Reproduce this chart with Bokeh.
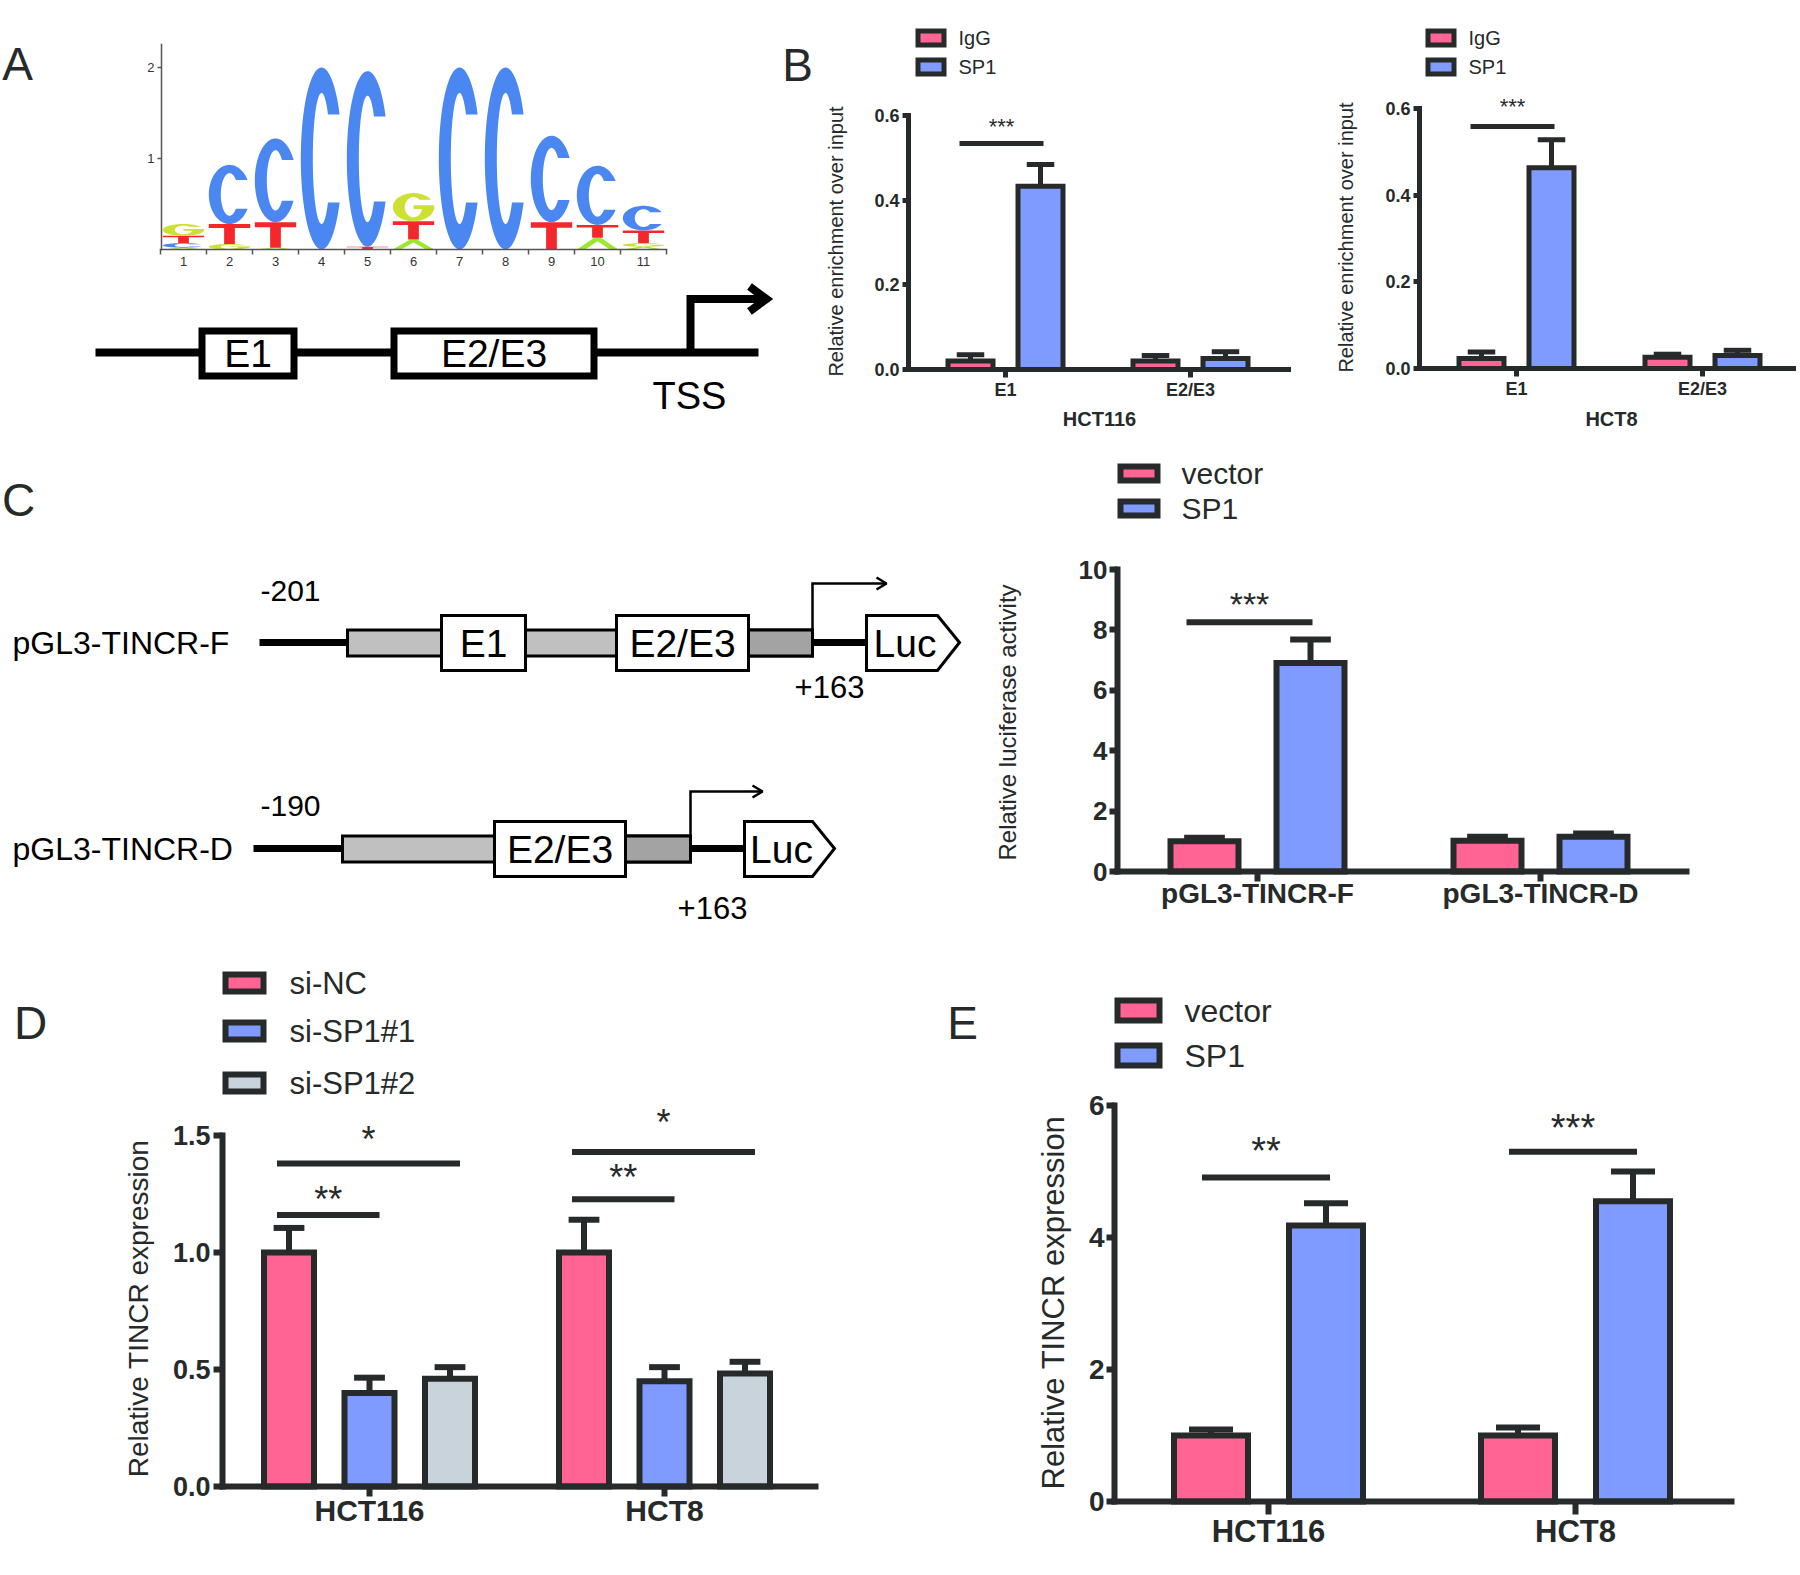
import numpy as np
from bokeh.plotting import figure
from bokeh.layouts import column, row
from bokeh.models import Range1d, LinearAxis, FixedTicker
from bokeh.core.properties import value
from bokeh.embed import file_html
from bokeh.resources import INLINE

# ======================= DATA =======================
# Panel A: SP1 motif logo (information content, bits)
logo_positions = [1, 2, 3, 4, 5, 6, 7, 8, 9, 10, 11]
logo_bits_A = [0.02, 0.00, 0.02, 0.00, 0.00, 0.11, 0.00, 0.00, 0.00, 0.13, 0.03]
logo_bits_C = [0.05, 0.65, 0.92, 2.00, 1.93, 0.00, 2.00, 2.00, 0.95, 0.65, 0.27]
logo_bits_G = [0.13, 0.06, 0.00, 0.00, 0.00, 0.31, 0.00, 0.00, 0.00, 0.00, 0.04]
logo_bits_T = [0.08, 0.22, 0.28, 0.00, 0.03, 0.20, 0.00, 0.00, 0.30, 0.14, 0.14]
logo_y_ticks = [1, 2]
logo_y_labels = ["1", "2"]

# Panel B: ChIP
chip_regions = ["E1", "E2/E3"]
chip_groups = ["IgG", "SP1"]
chip_hct116_igg = [0.020, 0.020]
chip_hct116_igg_err = [0.015, 0.013]
chip_hct116_sp1 = [0.433, 0.026]
chip_hct116_sp1_err = [0.051, 0.016]
chip_hct8_igg = [0.023, 0.026]
chip_hct8_igg_err = [0.015, 0.007]
chip_hct8_sp1 = [0.463, 0.030]
chip_hct8_sp1_err = [0.065, 0.012]
chip_y_ticks = [0.0, 0.2, 0.4, 0.6]
chip_y_labels = ["0.0", "0.2", "0.4", "0.6"]
chip_hct116_sig = [(0, 0, 1, 0.534, 0.581, "***")]
chip_hct8_sig = [(0, 0, 1, 0.5585, 0.612, "***")]

# Panel C: luciferase
luc_constructs = ["pGL3-TINCR-F", "pGL3-TINCR-D"]
luc_groups = ["vector", "SP1"]
luc_vector = [1.00, 1.02]
luc_vector_err = [0.12, 0.13]
luc_sp1 = [6.90, 1.15]
luc_sp1_err = [0.78, 0.11]
luc_y_ticks = [0, 2, 4, 6, 8, 10]
luc_y_labels = ["0", "2", "4", "6", "8", "10"]
luc_sig = [(0, 0, 1, 8.25, 9.01, "***")]

# Panel D: knockdown
si_cells = ["HCT116", "HCT8"]
si_groups = ["si-NC", "si-SP1#1", "si-SP1#2"]
si_nc = [1.00, 1.00]
si_nc_err = [0.105, 0.14]
si_sp1_1 = [0.40, 0.45]
si_sp1_1_err = [0.065, 0.06]
si_sp1_2 = [0.46, 0.483]
si_sp1_2_err = [0.05, 0.05]
si_y_ticks = [0.0, 0.5, 1.0, 1.5]
si_y_labels = ["0.0", "0.5", "1.0", "1.5"]
si_sig = [(0, 0, 1, 1.16, 1.248, "**"), (0, 0, 2, 1.38, 1.504, "*"),
          (1, 0, 1, 1.228, 1.342, "**"), (1, 0, 2, 1.43, 1.577, "*")]

# Panel E: overexpression
oe_cells = ["HCT116", "HCT8"]
oe_groups = ["vector", "SP1"]
oe_vector = [1.00, 1.00]
oe_vector_err = [0.09, 0.12]
oe_sp1 = [4.18, 4.55]
oe_sp1_err = [0.34, 0.45]
oe_y_ticks = [0, 2, 4, 6]
oe_y_labels = ["0", "2", "4", "6"]
oe_sig = [(0, 0, 1, 4.91, 5.386, "**"), (1, 0, 1, 5.30, 5.735, "***")]

# ======================= STYLE =======================
FONT = "Liberation Sans"
INK = "#262a2a"
BLACK = "#000000"
PINK = "#ff6495"
BLUE = "#7f9bff"
GREY = "#c9d3db"
LOGO_COLORS = {"A": "#9be82c", "C": "#4b87f0", "G": "#cfe034", "T": "#f4282a"}
STAR_SHIFT = 0.135   # asterisk visual centre above the text baseline, in em


class Map:
    """maps reference pixel positions to data coordinates of one figure"""

    def __init__(self, box, xcal, ycal):
        self.X0, self.Y0, self.X1, self.Y1 = box
        (xa, pxa), (xb, pxb) = xcal
        (ya, pya), (yb, pyb) = ycal
        self.kx = (xb - xa) / (pxb - pxa)
        self.ky = (yb - ya) / (pyb - pya)
        self.xa, self.pxa, self.ya, self.pya = xa, pxa, ya, pya

    def x(self, px):
        r = self.xa + (np.asarray(px, dtype=float) - self.pxa) * self.kx
        return r.tolist() if np.ndim(r) else float(r)

    def y(self, py):
        r = self.ya + (np.asarray(py, dtype=float) - self.pya) * self.ky
        return r.tolist() if np.ndim(r) else float(r)

    def w(self, d):
        return d * abs(self.kx)

    def h(self, d):
        return d * abs(self.ky)

    def fig(self):
        p = figure(width=int(self.X1 - self.X0), height=int(self.Y1 - self.Y0),
                   x_range=Range1d(self.x(self.X0), self.x(self.X1)),
                   y_range=Range1d(self.y(self.Y1), self.y(self.Y0)),
                   x_axis_type=None, y_axis_type=None, toolbar_location=None,
                   output_backend="svg", min_border=0, title=None)
        p.outline_line_color = None
        p.background_fill_color = "white"
        p.border_fill_color = "white"
        return p


def txt(p, m, px, py, s, size, style="normal", align="center", baseline="middle",
        angle=0.0, color=INK):
    p.text(x=[m.x(px)], y=[m.y(py)], text=[s], text_font=value(FONT),
           text_font_size=f"{size}px", text_font_style=style, text_align=align,
           text_baseline=baseline, angle=angle, text_color=color)


def _axis(p, side, at, ticks, labels, bounds, size, standoff, tick_out, lw,
          style="bold", color=INK, label_color=INK):
    ax = LinearAxis(fixed_location=at, ticker=FixedTicker(ticks=list(ticks)), bounds=bounds,
                    major_label_overrides=dict(zip(ticks, labels)))
    ax.axis_line_width = lw
    ax.axis_line_color = color
    ax.axis_line_cap = "square"
    ax.major_tick_line_width = lw
    ax.major_tick_line_color = color
    ax.major_tick_in = 0
    ax.major_tick_out = tick_out
    ax.minor_tick_line_color = None
    ax.major_label_text_font = FONT
    ax.major_label_text_font_size = f"{size}px"
    ax.major_label_text_font_style = style
    ax.major_label_text_color = label_color
    ax.major_label_standoff = standoff
    p.add_layout(ax, side)
    return ax


def add_yaxis(p, *a, **k):
    return _axis(p, "left", *a, **k)


def add_xaxis(p, *a, **k):
    return _axis(p, "below", *a, **k)


def bars(p, m, series, errs, colors, offsets_px, bar_px, lw, cap_frac=0.55):
    n = len(series[0])
    for k, (vals, ee, col) in enumerate(zip(series, errs, colors)):
        xs = [g + offsets_px[k] * m.kx for g in range(n)]
        ups = [v + e for v, e in zip(vals, ee)]
        cw = cap_frac * bar_px / 2 * m.kx
        p.segment(x0=xs, y0=list(vals), x1=xs, y1=ups, line_color=INK, line_width=lw)
        p.segment(x0=[x - cw for x in xs], y0=ups, x1=[x + cw for x in xs], y1=ups,
                  line_color=INK, line_width=lw)
        p.vbar(x=xs, width=(bar_px - lw) * m.kx, top=list(vals), bottom=0,
               fill_color=col, line_color=INK, line_width=lw, line_join="miter")


def sigs(p, m, sig, offsets_px, lw, star_size, left_px=-12, right_px=10):
    for (g, i, j, lvl, slvl, s) in sig:
        x0 = g + (offsets_px[i] + left_px) * m.kx
        x1 = g + (offsets_px[j] + right_px) * m.kx
        p.segment(x0=[x0], y0=[lvl], x1=[x1], y1=[lvl], line_color=INK, line_width=lw)
        p.text(x=[(x0 + x1) / 2], y=[slvl - m.h(STAR_SHIFT * star_size)], text=[s],
               text_font=value(FONT), text_font_size=f"{star_size}px",
               text_align="center", text_baseline="alphabetic", text_color=INK)


def legend(p, m, labels, colors, boxes, text_x, size, lw):
    for lab, col, (l, r, t, b) in zip(labels, colors, boxes):
        p.quad(left=[m.x(l + lw / 2)], right=[m.x(r - lw / 2)], top=[m.y(t + lw / 2)],
               bottom=[m.y(b - lw / 2)], fill_color=col, line_color=INK, line_width=lw,
               line_join="miter")
        txt(p, m, text_x, (t + b) / 2, lab, size, align="left")


# ======================= PANEL A =======================
mA = Map((0, 0, 780, 435), ((1, 183), (11, 643)), ((0, 249), (2, 67)))
pA = mA.fig()


def letter_shape(L, cx, base, h, w):
    rx, ry = w / 2, h / 2
    cy = base + ry
    if L in ("C", "G"):
        irx, iry = rx * 0.42, ry * 0.72
        a0 = np.radians(29 if L == "C" else 32)
        a1 = 2 * np.pi - a0 if L == "C" else 2 * np.pi
        t = np.linspace(a0, a1, 70)
        ox = cx + rx * np.cos(t)
        oy = cy + ry * np.sin(t)
        s0 = np.clip(ry * np.sin(a0) / iry, -1, 1)
        f0 = np.arcsin(s0)
        f1 = 2 * np.pi - f0 if L == "C" else 2 * np.pi
        f = np.linspace(f1, f0, 70)
        ix = cx + irx * np.cos(f)
        iy = cy + iry * np.sin(f)
        shapes = [(list(ox) + list(ix), list(oy) + list(iy))]
        if L == "G":
            bx = [cx, cx + rx, cx + rx, cx]
            by = [cy + 0.14 * ry, cy + 0.14 * ry, cy - 0.12 * ry, cy - 0.12 * ry]
            shapes.append((bx, by))
        return shapes
    if L == "T":
        top = base + h
        bt = 0.2 * h
        sw = 0.13 * w
        xs = [cx - rx, cx + rx, cx + rx, cx + sw, cx + sw, cx - sw, cx - sw, cx - rx]
        ys = [top, top, top - bt, top - bt, base, base, top - bt, top - bt]
        return [(xs, ys)]
    top = base + h
    xs = [cx - rx, cx - 0.08 * w, cx + 0.08 * w, cx + rx, cx + rx - 0.2 * w, cx,
          cx - rx + 0.2 * w]
    ys = [base, top, top, base, base, base + 0.7 * h, base]
    return [(xs, ys)]


lx, ly, lc = [], [], []
for idx, pos in enumerate(logo_positions):
    stack = sorted([(logo_bits_A[idx], "A"), (logo_bits_C[idx], "C"),
                    (logo_bits_G[idx], "G"), (logo_bits_T[idx], "T")], key=lambda t: t[0])
    base = 0.0
    for hgt, L in stack:
        if hgt <= 0:
            continue
        for xs, ys in letter_shape(L, pos, base, hgt, 0.9):
            lx.append(xs)
            ly.append(ys)
            lc.append(LOGO_COLORS[L])
        base += hgt
pA.patches(lx, ly, fill_color=lc, line_color=None)

add_yaxis(pA, mA.x(161), logo_y_ticks, logo_y_labels, (0, 2.25), 13, 3, 4, 1.5,
          style="normal", color="#555555", label_color="#333333")
tick_edges = [p_ - 0.5 for p_ in logo_positions] + [logo_positions[-1] + 0.5]
add_xaxis(pA, 0, tick_edges, [""] * len(tick_edges), (tick_edges[0], tick_edges[-1]),
          1, 0, 5, 1.5, style="normal", color="#555555", label_color=None)
axl = add_xaxis(pA, 0, logo_positions, [str(v) for v in logo_positions],
                (tick_edges[0], tick_edges[-1]), 13, 7, 0, 1.5, style="normal",
                color=None, label_color="#333333")
axl.major_tick_line_color = None

txt(pA, mA, 17, 63, "A", 46)

# promoter diagram
pA.line(x=mA.x([95, 758]), y=mA.y([352, 352]), line_width=8, line_color=BLACK)
for (l, r, lab) in [(198, 297, "E1"), (390, 597, "E2/E3")]:
    pA.quad(left=[mA.x(l + 3.5)], right=[mA.x(r - 3.5)], top=[mA.y(330.5)],
            bottom=[mA.y(375.5)], fill_color="white", line_color=BLACK, line_width=7,
            line_join="miter")
    txt(pA, mA, (l + r) / 2, 353, lab, 39, color=BLACK)
pA.line(x=mA.x([690, 690, 760]), y=mA.y([352, 298.5, 298.5]), line_width=8,
        line_color=BLACK, line_join="miter")
pA.line(x=mA.x([749, 766, 749]), y=mA.y([286, 298.5, 311]), line_width=8,
        line_color=BLACK, line_join="miter")
txt(pA, mA, 689, 395, "TSS", 38, color=BLACK)


# ======================= PANEL B =======================
def chip_panel(box, xcal, ycal, axis_px, xend_px, igg, igg_e, sp1, sp1_e, sig,
               ylab_pos, cell, cell_pos, leg_x, letter=None):
    m = Map(box, xcal, ycal)
    p = m.fig()
    offs = [-35, 35]
    bars(p, m, [igg, sp1], [igg_e, sp1_e], [PINK, BLUE], offs, 50, 5)
    sigs(p, m, sig, offs, 5, 22, left_px=-11, right_px=3)
    add_yaxis(p, m.x(axis_px), chip_y_ticks, chip_y_labels, (0, chip_y_ticks[-1]), 18, 3, 6, 5)
    add_xaxis(p, 0, [0, 1], chip_regions, (m.x(axis_px), m.x(xend_px)), 18, 2, 8, 5)
    txt(p, m, ylab_pos[0], ylab_pos[1], "Relative enrichment over input", 20, angle=np.pi / 2)
    txt(p, m, cell_pos[0], cell_pos[1], cell, 20, style="bold")
    legend(p, m, chip_groups, [PINK, BLUE], [(leg_x, leg_x + 31, 28, 47), (leg_x, leg_x + 31, 57, 76)],
           leg_x + 43, 20, 5)
    if letter:
        txt(p, m, letter[0], letter[1], letter[2], 46)
    return p


pB1 = chip_panel((780, 0, 1320, 435), ((0, 1005), (1, 1190)), ((0, 369), (0.6, 115)), 908, 1288,
                 chip_hct116_igg, chip_hct116_igg_err, chip_hct116_sp1, chip_hct116_sp1_err,
                 chip_hct116_sig, (835, 241), "HCT116", (1099, 418), 915, (797, 64, "B"))
pB2 = chip_panel((1320, 0, 1796, 435), ((0, 1516), (1, 1702)), ((0, 368), (0.6, 108)), 1419, 1797,
                 chip_hct8_igg, chip_hct8_igg_err, chip_hct8_sp1, chip_hct8_sp1_err,
                 chip_hct8_sig, (1345, 237), "HCT8", (1611, 418), 1425)

# ======================= PANEL C (diagram) =======================
mC = Map((0, 435, 990, 945), ((0, 0), (1, 1)), ((0, 0), (-1, 1)))
pC = mC.fig()
txt(pC, mC, 18, 499, "C", 46)


def construct(p, m, yc, name, start_lab, line0, gray0, boxes, dark0, gray1, luc0, luc_rect, luc_tip,
              arrow_top, arrow_end, plus_pos, start_pos):
    txt(p, m, 12, yc, name, 32, align="left", color=BLACK)
    txt(p, m, start_pos[0], start_pos[1], start_lab, 30, color=BLACK)
    p.line(x=m.x([line0, gray0]), y=m.y([yc, yc]), line_width=7, line_color=BLACK)
    p.line(x=m.x([gray1, luc0]), y=m.y([yc, yc]), line_width=7, line_color=BLACK)
    p.quad(left=[m.x(gray0)], right=[m.x(gray1)], top=[m.y(yc - 12.5)], bottom=[m.y(yc + 13.5)],
           fill_color="#c0c0c0", line_color=BLACK, line_width=3, line_join="miter")
    p.quad(left=[m.x(dark0)], right=[m.x(gray1)], top=[m.y(yc - 12.5)], bottom=[m.y(yc + 13.5)],
           fill_color="#a3a3a3", line_color=BLACK, line_width=3, line_join="miter")
    for (l, r, lab) in boxes:
        p.quad(left=[m.x(l)], right=[m.x(r)], top=[m.y(yc - 27)], bottom=[m.y(yc + 28)],
               fill_color="white", line_color=BLACK, line_width=3, line_join="miter")
        txt(p, m, (l + r) / 2, yc + 1, lab, 39, color=BLACK)
    p.patch(x=m.x([luc0, luc_rect, luc_tip, luc_rect, luc0]),
            y=m.y([yc - 27, yc - 27, yc, yc + 28, yc + 28]),
            fill_color="white", line_color=BLACK, line_width=3, line_join="miter")
    txt(p, m, (luc0 + luc_rect) / 2 + 3, yc + 1, "Luc", 39, color=BLACK)
    p.line(x=m.x([gray1, gray1, arrow_end]), y=m.y([yc - 12, arrow_top, arrow_top]),
           line_width=2.5, line_color=BLACK, line_join="miter")
    p.line(x=m.x([arrow_end - 10, arrow_end, arrow_end - 10]),
           y=m.y([arrow_top - 6, arrow_top, arrow_top + 6]), line_width=2.5, line_color=BLACK)
    txt(p, m, plus_pos[0], plus_pos[1], "+163", 31, color=BLACK)


construct(pC, mC, 642, luc_constructs[0], "-201", 259, 347,
          [(441, 525, "E1"), (616, 748, "E2/E3")], 748, 812, 866, 937, 959, 583, 886,
          (829, 686), (290, 590))
construct(pC, mC, 848, luc_constructs[1], "-190", 253, 342,
          [(494, 625, "E2/E3")], 625, 690, 744, 812, 834, 791, 762,
          (712, 907), (290, 805))

# ======================= PANEL C (chart) =======================
mCc = Map((990, 435, 1796, 945), ((0, 1257), (1, 1540)), ((0, 871), (10, 569)))
pCc = mCc.fig()
offC = [-53, 53]
bars(pCc, mCc, [luc_vector, luc_sp1], [luc_vector_err, luc_sp1_err], [PINK, BLUE], offC, 74, 6)
sigs(pCc, mCc, luc_sig, offC, 6, 34, left_px=-18, right_px=2)
add_yaxis(pCc, mCc.x(1117), luc_y_ticks, luc_y_labels, (0, 10), 26, 2, 8, 6)
add_xaxis(pCc, 0, [0, 1], luc_constructs, (mCc.x(1117), mCc.x(1686)), 28, -4, 10, 6)
txt(pCc, mCc, 1007, 722, "Relative luciferase activity", 24, angle=np.pi / 2)
legend(pCc, mCc, luc_groups, [PINK, BLUE], [(1117, 1160, 463, 483), (1117, 1160, 498, 518)],
       1181, 30, 6)

# ======================= PANEL D =======================
mD = Map((0, 945, 940, 1571), ((0, 369), (1, 664)), ((0, 1486), (1.5, 1135)))
pD = mD.fig()
offD = [-80.5, 0, 80.5]
bars(pD, mD, [si_nc, si_sp1_1, si_sp1_2], [si_nc_err, si_sp1_1_err, si_sp1_2_err],
     [PINK, BLUE, GREY], offD, 56, 6)
sigs(pD, mD, si_sig, offD, 6, 36)
add_yaxis(pD, mD.x(222), si_y_ticks, si_y_labels, (0, 1.5), 27, 3, 9, 6)
add_xaxis(pD, 0, [0, 1], si_cells, (mD.x(222), mD.x(815)), 30, -3, 10, 6)
txt(pD, mD, 138, 1308, "Relative TINCR expression", 28, angle=np.pi / 2)
legend(pD, mD, si_groups, [PINK, BLUE, GREY],
       [(222, 266, 971, 994), (222, 266, 1019, 1042), (222, 266, 1071, 1094)], 289, 31, 6)
txt(pD, mD, 30, 1022, "D", 46)

# ======================= PANEL E =======================
mE = Map((940, 945, 1796, 1571), ((0, 1268), (1, 1575)), ((0, 1501), (6, 1105)))
pE = mE.fig()
offE = [-57.5, 57.5]
bars(pE, mE, [oe_vector, oe_sp1], [oe_vector_err, oe_sp1_err], [PINK, BLUE], offE, 80, 6)
sigs(pE, mE, oe_sig, offE, 6, 38, left_px=-9, right_px=4)
add_yaxis(pE, mE.x(1114), oe_y_ticks, oe_y_labels, (0, 6), 28, 2, 8, 6)
add_xaxis(pE, 0, [0, 1], oe_cells, (mE.x(1114), mE.x(1731)), 31, -1, 13, 6)
txt(pE, mE, 1053, 1302, "Relative TINCR expression", 31, angle=np.pi / 2)
legend(pE, mE, oe_groups, [PINK, BLUE], [(1114, 1162, 997, 1023), (1114, 1162, 1042, 1068)],
       1184, 32, 6)
txt(pE, mE, 962, 1022, "E", 46)

layout = column(row(pA, pB1, pB2), row(pC, pCc), row(pD, pE))
open("out.html", "w").write(file_html(layout, INLINE))
